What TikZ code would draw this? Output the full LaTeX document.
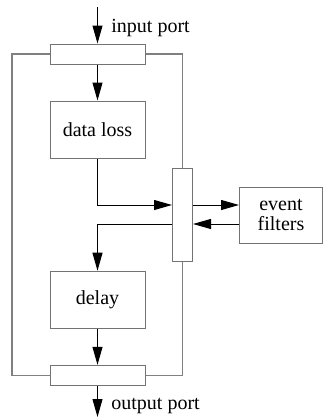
\documentclass[tikz,border=0pt]{standalone}
\usepackage{fontspec}
\setmainfont{Liberation Serif}
\usetikzlibrary{arrows.meta}

\begin{document}
\begin{tikzpicture}[x=0.5pt,y=-0.5pt,
    font=\fontsize{10}{10}\selectfont,
    box/.style={draw=black!55,line width=0.5pt,minimum width=47.5pt,minimum height=28.5pt,inner sep=0pt,align=center},
    bar/.style={draw=black!55,line width=0.5pt,minimum width=47.5pt,minimum height=10pt,inner sep=0pt},
    vbar/.style={draw=black!55,line width=0.5pt,minimum width=10pt,minimum height=46.5pt,inner sep=0pt},
    loop/.style={draw=black!50,line width=0.6pt},
    flow/.style={line width=0.5pt,-{Triangle[length=9pt,width=5pt]}}]
    \useasboundingbox (0,0) rectangle (324,418);
    \node[bar] (inbar) at (97.5,54) {};
    \node[box] (loss) at (97.5,129.5) {data loss};
    \node[vbar] (filt) at (182.5,215) {};
    \node[box,minimum width=41.5pt,minimum height=28pt] (events) at (281,215.3) {event\\filters};
    \node[box] (delay) at (97.5,299.7) {delay};
    \node[bar] (outbar) at (97.5,375.3) {};
    \coordinate (in) at (97.5,7);
    \coordinate (out) at (97.5,417);
    \node[anchor=base west,inner sep=0pt] (inlabel) at (111,32) {input port};
    \node[anchor=base west,inner sep=0pt] (outlabel) at (111,409) {output port};
    % outer loop
    \draw[loop] (inbar.west) -| (12,375.3) -- (outbar.west);
    \draw[loop] (inbar.east) -| (filt.north);
    \draw[loop] (filt.south) |- (outbar.east);
    % flow
    \draw[flow] (in) -- (inbar.north);
    \draw[flow] (inbar.south) -- (loss.north);
    \draw[flow] (loss.south) |- ([yshift=5pt]filt.west);
    \draw[flow] ([yshift=5pt]filt.east) -- ([yshift=5pt]filt.east -| events.west);
    \draw[flow] ([yshift=-4.5pt]filt.east -| events.west) -- ([yshift=-4.5pt]filt.east);
    \draw[flow] ([yshift=-4.5pt]filt.west) -| (delay.north);
    \draw[flow] (delay.south) -- (outbar.north);
    \draw[flow] (outbar.south) -- (out);
\end{tikzpicture}
\end{document}
